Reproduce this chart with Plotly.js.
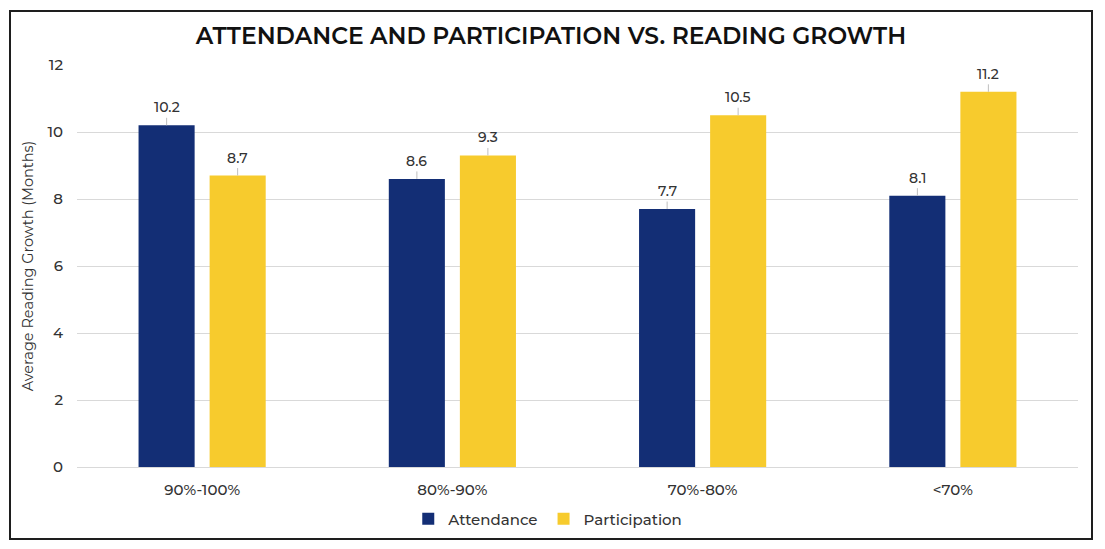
<!DOCTYPE html>
<html>
<head>
<meta charset="utf-8">
<script src="https://cdn.plot.ly/plotly-3.0.1.min.js"></script>
<style>
  html, body { margin: 0; padding: 0; background: #fff; }
  #frame { position: absolute; left: 9px; top: 10px; width: 1084px; height: 530px; box-sizing: border-box; border: 2px solid #1e1e1e; }
  #chart { width: 1080px; height: 526px; }
</style>
</head>
<body>
<div id="frame"><div id="chart"></div></div>
<script>
const categories = ["90%-100%", "80%-90%", "70%-80%", "<70%"];
const attendance = [10.2, 8.6, 7.7, 8.1];
const participation = [8.7, 9.3, 10.5, 11.2];
const seriesNames = ["Attendance", "Participation"];
const yTicks = [0, 2, 4, 6, 8, 10, 12];

const navy = "#132E75";
const yellow = "#F7CB2D";
const font = "Montserrat, 'Open Sans', sans-serif";

const traces = [
  { type: "bar", name: seriesNames[0], x: categories, y: attendance, marker: { color: navy }, hoverinfo: "x+y" },
  { type: "bar", name: seriesNames[1], x: categories, y: participation, marker: { color: yellow }, hoverinfo: "x+y" }
];

const annotations = [];
const shift = 35.5;
[attendance, participation].forEach((vals, s) => {
  vals.forEach((v, i) => {
    annotations.push({
      x: categories[i], y: v, xref: "x", yref: "y",
      text: v.toFixed(1), showarrow: true, arrowhead: 0, arrowwidth: 1,
      arrowcolor: "#bfbfbf", ax: 0, ay: -18, xshift: s === 0 ? -shift : shift,
      font: { family: font, size: 14, color: "#333", weight: 500 }
    });
  });
});

const layout = {
  width: 1080, height: 526,
  margin: { l: 66, r: 13, t: 53, b: 71 },
  paper_bgcolor: "#fff", plot_bgcolor: "#fff",
  font: { family: font, color: "#333", weight: 500 },
  title: { text: "ATTENDANCE AND PARTICIPATION VS. READING GROWTH", x: 0.5, xanchor: "center", y: 0.955, yanchor: "middle", font: { family: font, size: 23.4, color: "#111", weight: 600 } },
  barmode: "group", bargap: 0.432, bargroupgap: 0.211,
  xaxis: { type: "category", automargin: false, tickfont: { size: 15, color: "#333", weight: 500 }, ticks: "outside", ticklen: 9, tickcolor: "rgba(0,0,0,0)", showline: false, showgrid: false, zeroline: false },
  yaxis: { range: [0, 12], automargin: false, tickvals: yTicks, tickfont: { size: 15, color: "#333", weight: 500 }, ticks: "outside", ticklen: 10, tickcolor: "rgba(0,0,0,0)", gridcolor: "#d9d9d9", gridwidth: 1, zeroline: true, zerolinecolor: "#d9d9d9", showline: false,
    title: { text: "Average Reading Growth (Months)", font: { size: 14.5, color: "#333", weight: 400 }, standoff: 10 } },
  legend: { orientation: "h", x: 0.497, xanchor: "center", xref: "container", y: 0.036, yref: "container", yanchor: "middle", font: { size: 15, color: "#333", weight: 500 }, itemwidth: 30, traceorder: "normal" },
  annotations: annotations,
  showlegend: true
};

Plotly.newPlot("chart", traces, layout, { displayModeBar: false, responsive: false });
</script>
</body>
</html>
